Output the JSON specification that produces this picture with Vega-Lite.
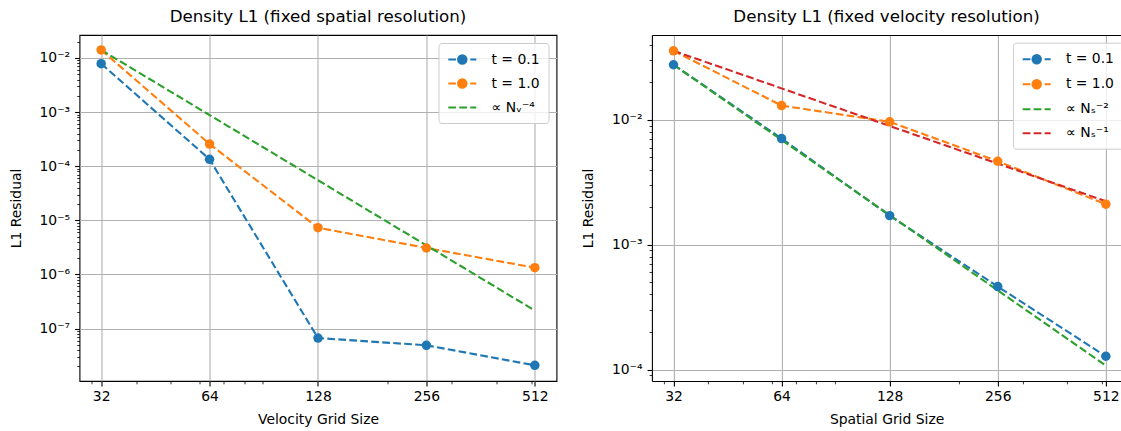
{
  "$schema": "https://vega.github.io/schema/vega-lite/v6.json",
  "padding": {"left": 8.5, "top": 8, "right": 0, "bottom": 0},
  "background": "white",
  "config": {
    "font": "DejaVu Sans",
    "axis": {"labelFont": "DejaVu Sans", "labelFontSize": 13.9, "labelColor": "black", "titleFont": "DejaVu Sans", "titleFontSize": 13.9, "titleFontWeight": "normal", "titleColor": "black", "tickColor": "black", "domainColor": "black", "gridColor": "#b0b0b0", "gridWidth": 1.1},
    "legend": {"labelFont": "DejaVu Sans", "labelFontSize": 13.9, "labelColor": "black"},
    "title": {"font": "DejaVu Sans", "fontSize": 16.7, "fontWeight": "normal", "color": "black", "baseline": "alphabetic", "offset": 9}
  },
  "datasets": {
    "left": [
      {"N": 32, "value": 0.00785, "series": "t = 0.1"},
      {"N": 64, "value": 0.000134, "series": "t = 0.1"},
      {"N": 128, "value": 6.67e-8, "series": "t = 0.1"},
      {"N": 256, "value": 4.9e-8, "series": "t = 0.1"},
      {"N": 512, "value": 2.09e-8, "series": "t = 0.1"},
      {"N": 32, "value": 0.0141, "series": "t = 1.0"},
      {"N": 64, "value": 0.000257, "series": "t = 1.0"},
      {"N": 128, "value": 7.3e-6, "series": "t = 1.0"},
      {"N": 256, "value": 3.08e-6, "series": "t = 1.0"},
      {"N": 512, "value": 1.33e-6, "series": "t = 1.0"},
      {"N": 32, "value": 0.0141, "series": "∝ Nᵥ⁻⁴"},
      {"N": 64, "value": 0.000881, "series": "∝ Nᵥ⁻⁴"},
      {"N": 128, "value": 5.51e-5, "series": "∝ Nᵥ⁻⁴"},
      {"N": 256, "value": 3.44e-6, "series": "∝ Nᵥ⁻⁴"},
      {"N": 512, "value": 2.15e-7, "series": "∝ Nᵥ⁻⁴"}
    ],
    "right": [
      {"N": 32, "value": 0.0276, "series": "t = 0.1"},
      {"N": 64, "value": 0.00708, "series": "t = 0.1"},
      {"N": 128, "value": 0.00171, "series": "t = 0.1"},
      {"N": 256, "value": 0.000462, "series": "t = 0.1"},
      {"N": 512, "value": 0.000128, "series": "t = 0.1"},
      {"N": 32, "value": 0.0357, "series": "t = 1.0"},
      {"N": 64, "value": 0.013, "series": "t = 1.0"},
      {"N": 128, "value": 0.00964, "series": "t = 1.0"},
      {"N": 256, "value": 0.00466, "series": "t = 1.0"},
      {"N": 512, "value": 0.00211, "series": "t = 1.0"},
      {"N": 32, "value": 0.0276, "series": "∝ Nₛ⁻²"},
      {"N": 64, "value": 0.0069, "series": "∝ Nₛ⁻²"},
      {"N": 128, "value": 0.001725, "series": "∝ Nₛ⁻²"},
      {"N": 256, "value": 0.000431, "series": "∝ Nₛ⁻²"},
      {"N": 512, "value": 0.0001078, "series": "∝ Nₛ⁻²"},
      {"N": 32, "value": 0.0357, "series": "∝ Nₛ⁻¹"},
      {"N": 64, "value": 0.01785, "series": "∝ Nₛ⁻¹"},
      {"N": 128, "value": 0.00893, "series": "∝ Nₛ⁻¹"},
      {"N": 256, "value": 0.00446, "series": "∝ Nₛ⁻¹"},
      {"N": 512, "value": 0.00223, "series": "∝ Nₛ⁻¹"}
    ]
  },
  "spacing": 23.4,
  "resolve": {"scale": {"x": "independent", "y": "independent", "color": "independent"}, "legend": {"color": "independent"}},
  "hconcat": [
    {
      "width": 477,
      "height": 346,
      "title": {"text": "Density L1 (fixed spatial resolution)"},
      "data": {"name": "left"},
      "view": {"stroke": "black", "strokeWidth": 1.1},
      "resolve": {"axis": {"x": "independent", "y": "independent"}},
      "layer": [
        {
          "mark": {"type": "line", "strokeDash": [7.7, 3.3], "strokeWidth": 2.1},
          "encoding": {
            "x": {"field": "N", "type": "quantitative",
              "scale": {"type": "log", "base": 2, "domain": [27.86, 588.1], "nice": false, "zero": false},
              "axis": {"orient": "bottom", "values": [32, 64, 128, 256, 512], "format": "d", "grid": true, "domain": false, "tickSize": 4.9, "tickWidth": 1.1, "labelPadding": 4, "title": "Velocity Grid Size", "titlePadding": 9, "labelFlush": false, "labelOverlap": false}},
            "y": {"field": "value", "type": "quantitative",
              "scale": {"type": "log", "domain": [1.072e-8, 0.02661], "nice": false, "zero": false},
              "axis": {"orient": "left", "values": [0.01, 0.001, 0.0001, 0.00001, 0.000001, 0.0000001], "labelExpr": "'10⁻' + substring('⁰¹²³⁴⁵⁶⁷⁸⁹', -round(log(datum.value)/LN10), 1 - round(log(datum.value)/LN10))", "grid": true, "domain": false, "tickSize": 4.9, "tickWidth": 1.1, "labelPadding": 5, "title": "L1 Residual", "titlePadding": 15.7, "labelFlush": false, "labelOverlap": false}},
            "color": {"field": "series", "type": "nominal",
              "scale": {"domain": ["t = 0.1", "t = 1.0", "∝ Nᵥ⁻⁴"], "range": ["#1f77b4", "#ff7f0e", "#2ca02c"]},
              "legend": {"title": null, "orient": "top-right", "offset": 8, "padding": 8, "fillColor": "rgba(255,255,255,0.8)", "strokeColor": "#cccccc", "cornerRadius": 3, "symbolSize": 196, "symbolOffset": 7.3, "labelOffset": 20.7, "rowPadding": 7, "symbolStrokeWidth": 2.1,
                "encode": {"symbols": {"update": {
                  "shape": {"signal": "datum.index < 2 ? 'M-2,0H-0.9M-0.43,0H0.67M1.14,0H2M0.6,0A0.6,0.6 0 1,1 -0.6,0A0.6,0.6 0 1,1 0.6,0Z' : 'M-2,0H-0.9M-0.43,0H0.67M1.14,0H2'"},
                  "stroke": {"signal": "['#1f77b4','#ff7f0e','#2ca02c','#d62728'][datum.index]"},
                  "fill": {"signal": "['#1f77b4','#ff7f0e','#2ca02c','#d62728'][datum.index]"},
                  "strokeWidth": {"value": 2.1},
                  "strokeDash": {"value": []},
                  "opacity": {"value": 1}
                }}}}}
          }
        },
        {
          "transform": [{"filter": {"field": "series", "oneOf": ["t = 0.1", "t = 1.0"]}}],
          "mark": {"type": "circle", "size": 90, "opacity": 1},
          "encoding": {
            "x": {"field": "N", "type": "quantitative",
              "axis": {"orient": "bottom", "values": [30, 40, 50, 60, 70, 80, 90, 200, 300, 400, 500], "labels": false, "grid": false, "domain": false, "tickSize": 2.8, "tickWidth": 0.8, "title": null}},
            "y": {"field": "value", "type": "quantitative",
              "axis": {"orient": "left", "values": [2e-8, 3e-8, 4e-8, 5e-8, 6e-8, 7e-8, 8e-8, 9e-8, 2e-7, 3e-7, 4e-7, 5e-7, 6e-7, 7e-7, 8e-7, 9e-7, 2e-6, 3e-6, 4e-6, 5e-6, 6e-6, 7e-6, 8e-6, 9e-6, 2e-5, 3e-5, 4e-5, 5e-5, 6e-5, 7e-5, 8e-5, 9e-5, 2e-4, 3e-4, 4e-4, 5e-4, 6e-4, 7e-4, 8e-4, 9e-4, 2e-3, 3e-3, 4e-3, 5e-3, 6e-3, 7e-3, 8e-3, 9e-3, 2e-2], "labels": false, "grid": false, "domain": false, "tickSize": 2.8, "tickWidth": 0.8, "title": null}},
            "color": {"field": "series", "type": "nominal", "legend": null}
          }
        }
      ]
    },
    {
      "width": 469.3,
      "height": 346,
      "title": {"text": "Density L1 (fixed velocity resolution)"},
      "data": {"name": "right"},
      "view": {"stroke": null},
      "resolve": {"axis": {"x": "independent", "y": "independent"}},
      "layer": [
        {
          "mark": {"type": "line", "strokeDash": [7.7, 3.3], "strokeWidth": 2.1},
          "encoding": {
            "x": {"field": "N", "type": "quantitative",
              "scale": {"type": "log", "base": 2, "domain": [27.86, 565], "nice": false, "zero": false},
              "axis": {"orient": "bottom", "values": [32, 64, 128, 256, 512], "format": "d", "grid": true, "domain": true, "domainWidth": 1.1, "tickSize": 4.9, "tickWidth": 1.1, "labelPadding": 4, "title": "Spatial Grid Size", "titlePadding": 9, "labelFlush": false, "labelOverlap": false}},
            "y": {"field": "value", "type": "quantitative",
              "scale": {"type": "log", "domain": [8.11e-5, 0.04775], "nice": false, "zero": false},
              "axis": {"orient": "left", "values": [0.01, 0.001, 0.0001], "labelExpr": "'10⁻' + substring('⁰¹²³⁴⁵⁶⁷⁸⁹', -round(log(datum.value)/LN10), 1 - round(log(datum.value)/LN10))", "grid": true, "domain": true, "domainWidth": 1.1, "tickSize": 4.9, "tickWidth": 1.1, "labelPadding": 5, "title": "L1 Residual", "titlePadding": 15.7, "labelFlush": false, "labelOverlap": false}},
            "color": {"field": "series", "type": "nominal",
              "scale": {"domain": ["t = 0.1", "t = 1.0", "∝ Nₛ⁻²", "∝ Nₛ⁻¹"], "range": ["#1f77b4", "#ff7f0e", "#2ca02c", "#d62728"]},
              "legend": {"title": null, "orient": "none", "legendX": 361, "legendY": 7.7, "padding": 8, "fillColor": "rgba(255,255,255,0.8)", "strokeColor": "#cccccc", "cornerRadius": 3, "symbolSize": 196, "symbolOffset": 7.3, "labelOffset": 20.7, "rowPadding": 8, "symbolStrokeWidth": 2.1,
                "encode": {"symbols": {"update": {
                  "shape": {"signal": "datum.index < 2 ? 'M-2,0H-0.9M-0.43,0H0.67M1.14,0H2M0.6,0A0.6,0.6 0 1,1 -0.6,0A0.6,0.6 0 1,1 0.6,0Z' : 'M-2,0H-0.9M-0.43,0H0.67M1.14,0H2'"},
                  "stroke": {"signal": "['#1f77b4','#ff7f0e','#2ca02c','#d62728'][datum.index]"},
                  "fill": {"signal": "['#1f77b4','#ff7f0e','#2ca02c','#d62728'][datum.index]"},
                  "strokeWidth": {"value": 2.1},
                  "strokeDash": {"value": []},
                  "opacity": {"value": 1}
                }}}}}
          }
        },
        {
          "transform": [{"filter": {"field": "series", "oneOf": ["t = 0.1", "t = 1.0"]}}],
          "mark": {"type": "circle", "size": 90, "opacity": 1},
          "encoding": {
            "x": {"field": "N", "type": "quantitative",
              "axis": {"orient": "bottom", "values": [30, 40, 50, 60, 70, 80, 90, 200, 300, 400, 500], "labels": false, "grid": false, "domain": false, "tickSize": 2.8, "tickWidth": 0.8, "title": null}},
            "y": {"field": "value", "type": "quantitative",
              "axis": {"orient": "left", "values": [9e-5, 2e-4, 3e-4, 4e-4, 5e-4, 6e-4, 7e-4, 8e-4, 9e-4, 2e-3, 3e-3, 4e-3, 5e-3, 6e-3, 7e-3, 8e-3, 9e-3, 2e-2, 3e-2, 4e-2], "labels": false, "grid": false, "domain": false, "tickSize": 2.8, "tickWidth": 0.8, "title": null}},
            "color": {"field": "series", "type": "nominal", "legend": null}
          }
        },
        {
          "mark": {"type": "line", "opacity": 0},
          "encoding": {
            "x": {"field": "N", "type": "quantitative",
              "axis": {"orient": "top", "domain": true, "domainWidth": 1.1, "ticks": false, "labels": false, "grid": false, "title": null}},
            "y": {"field": "value", "type": "quantitative", "axis": null},
            "detail": {"field": "series", "type": "nominal"}
          }
        }
      ]
    }
  ]
}
